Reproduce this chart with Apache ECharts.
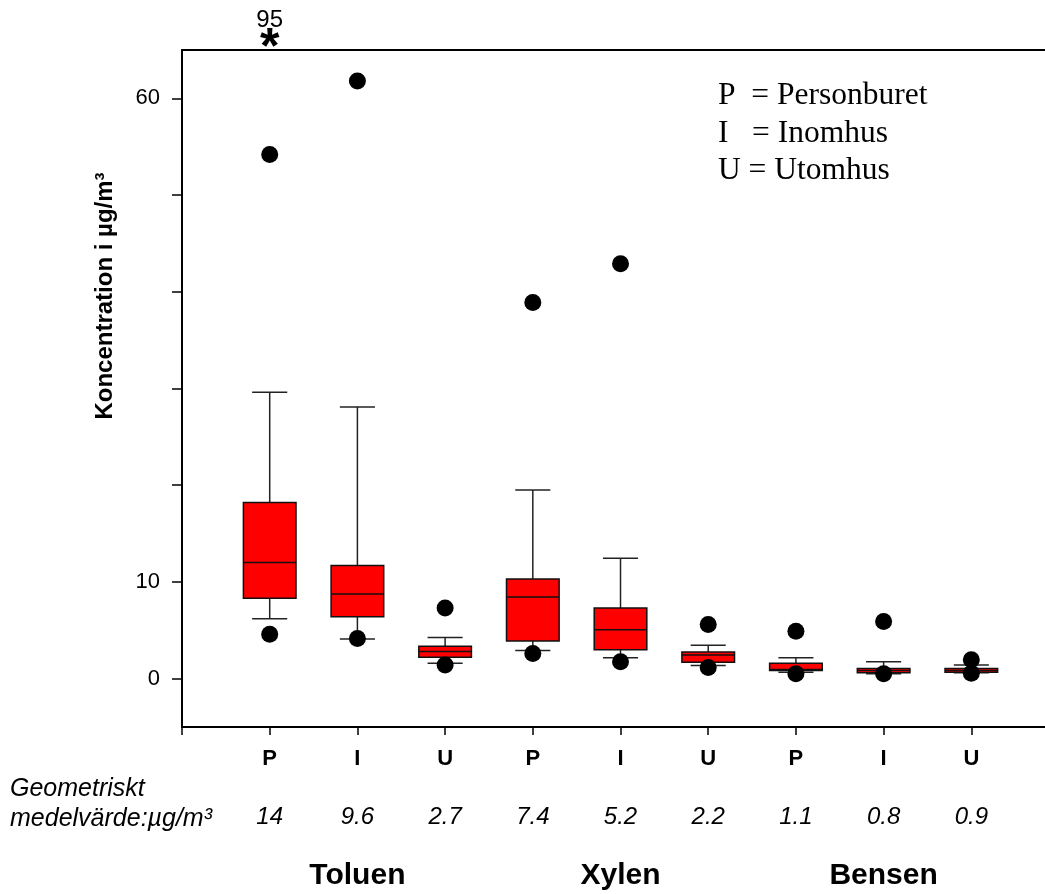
<!DOCTYPE html>
<html>
<head>
<meta charset="utf-8">
<title>Koncentration</title>
<script src="https://cdn.jsdelivr.net/npm/echarts@6/dist/echarts.min.js"></script>
<style>
  html, body { margin: 0; padding: 0; background: #fff; }
  #chart { width: 1045px; height: 894px; }
</style>
</head>
<body>
<div id="chart"></div>
<script>
// kategorier: P = Personburet, I = Inomhus, U = Utomhus
const categories = ['P', 'I', 'U', 'P', 'I', 'U', 'P', 'I', 'U']
const groups = ['Toluen', 'Xylen', 'Bensen']
const geoMean = ['14', '9.6', '2.7', '7.4', '5.2', '2.2', '1.1', '0.8', '0.9']

// lådagrammens värden (µg/m3)
const lowerWhisker = [6.2, 4.1, 1.6, 2.9, 2.15, 1.35, 0.65, 0.5, 0.6]
const q1 = [8.3, 6.4, 2.2, 3.9, 3.0, 1.7, 0.85, 0.62, 0.65]
const median = [12.0, 8.75, 2.8, 8.45, 5.05, 2.45, 0.95, 0.85, 0.85]
const q3 = [18.2, 11.7, 3.35, 10.3, 7.3, 2.75, 1.6, 1.05, 1.05]
const upperWhisker = [29.6, 28.1, 4.25, 19.5, 12.45, 3.45, 2.15, 1.75, 1.4]

// extremvärden (position 1-9, värde)
const outlierPos = [1, 1, 2, 2, 3, 3, 4, 4, 5, 5, 6, 6, 7, 7, 8, 8, 9, 9]
const outlierVal = [54.2, 4.6, 61.8, 4.15, 7.3, 1.4, 38.9, 2.6, 42.9, 1.75, 5.6, 1.15, 4.9, 0.5, 5.9, 0.5, 1.95, 0.55]

// värde utanför skalan
const offScaleValue = 95
const xTicks = [0, 1, 2, 3, 4, 5, 6, 7, 8, 9]
const xLabels = [1, 2, 3, 4, 5, 6, 7, 8, 9]
const yTicks = [0, 10, 20, 30, 40, 50, 60]
const yLabels = [0, 10, 60]

const chartInstance = echarts.init(document.getElementById('chart'))

const boxData = categories.map((c, i) => [i + 1, lowerWhisker[i], q1[i], median[i], q3[i], upperWhisker[i]])
const outlierData = outlierPos.map((p, i) => [p, outlierVal[i]])

function renderBox (params, api) {
    const x = api.value(0)
    const lo = api.coord([x, api.value(1)])
    const b = api.coord([x, api.value(2)])
    const md = api.coord([x, api.value(3)])
    const t = api.coord([x, api.value(4)])
    const hi = api.coord([x, api.value(5)])
    const boxW = api.size([0.6, 0])[0]
    const capW = api.size([0.4, 0])[0]
    const whisker = { stroke: '#222', lineWidth: 1.5 }
    return {
        type: 'group',
        children: [
            { type: 'line', shape: { x1: hi[0], y1: hi[1], x2: t[0], y2: t[1] }, style: whisker },
            { type: 'line', shape: { x1: b[0], y1: b[1], x2: lo[0], y2: lo[1] }, style: whisker },
            { type: 'line', shape: { x1: hi[0] - capW / 2, y1: hi[1], x2: hi[0] + capW / 2, y2: hi[1] }, style: whisker },
            { type: 'line', shape: { x1: lo[0] - capW / 2, y1: lo[1], x2: lo[0] + capW / 2, y2: lo[1] }, style: whisker },
            { type: 'rect', shape: { x: t[0] - boxW / 2, y: t[1], width: boxW, height: b[1] - t[1] },
              style: { fill: '#ff0000', stroke: '#111', lineWidth: 1.5 } },
            { type: 'line', shape: { x1: md[0] - boxW / 2, y1: md[1], x2: md[0] + boxW / 2, y2: md[1] },
              style: { stroke: '#111', lineWidth: 1.5 } }
        ]
    }
}

const option = {
    backgroundColor: '#fff',
    animation: false,
    grid: { left: 182, top: 50, width: 863, height: 677 },
    xAxis: [
        {
            type: 'value',
            min: 0,
            max: 9.84,
            splitLine: { show: false },
            axisLine: { onZero: false, lineStyle: { color: '#000', width: 2 } },
            axisTick: { length: 8, customValues: xTicks, lineStyle: { color: '#000', width: 1.5 } },
            axisLabel: {
                customValues: xLabels,
                margin: 17,
                color: '#000',
                fontFamily: 'Liberation Sans, Arial',
                formatter: (v) => {
                    const i = Math.round(v) - 1
                    let s = '{c|' + categories[i] + '}\n{g|' + geoMean[i] + '}'
                    if (i % 3 === 1) s += '\n{t|' + groups[(i - 1) / 3] + '}'
                    return s
                },
                rich: {
                    c: { fontSize: 22, fontWeight: 'bold', lineHeight: 30, fontFamily: 'Liberation Sans, Arial', color: '#000' },
                    g: { fontSize: 24, fontStyle: 'italic', lineHeight: 86, fontFamily: 'Liberation Sans, Arial', color: '#000' },
                    t: { fontSize: 30, fontWeight: 'bold', lineHeight: 32, fontFamily: 'Liberation Sans, Arial', color: '#000' }
                }
            }
        },
        {
            type: 'value',
            position: 'top',
            min: 0,
            max: 9.84,
            splitLine: { show: false },
            axisLine: { show: true, onZero: false, lineStyle: { color: '#000', width: 2 } },
            axisTick: { show: false },
            axisLabel: { show: false }
        }
    ],
    yAxis: {
        type: 'value',
        min: -5,
        max: 65,
        splitLine: { show: false },
        axisLine: { show: true, onZero: false, lineStyle: { color: '#000', width: 2 } },
        axisTick: { show: true, length: 10, customValues: yTicks, lineStyle: { color: '#000', width: 1.5 } },
        axisLabel: {
            customValues: yLabels,
            margin: 22,
            fontSize: 22,
            color: '#000',
            fontFamily: 'Liberation Sans, Arial'
        }
    },
    series: [
        {
            type: 'custom',
            renderItem: renderBox,
            encode: { x: 0, y: [1, 2, 3, 4, 5] },
            data: boxData,
            z: 2
        },
        {
            type: 'scatter',
            symbol: 'circle',
            symbolSize: 17,
            itemStyle: { color: '#000', opacity: 1 },
            data: outlierData,
            z: 3
        },
        {
            // markering för värdet utanför skalan
            type: 'scatter',
            clip: false,
            symbolSize: 0,
            itemStyle: { color: '#000', opacity: 1 },
            data: [[1, 65, offScaleValue]],
            label: {
                show: true,
                position: 'top',
                distance: -17,
                color: '#000',
                formatter: (p) => '{n|' + p.value[2] + '}\n{s|*}',
                rich: {
                    n: { fontSize: 24, fontFamily: 'Liberation Sans, Arial', color: '#000', lineHeight: 22 },
                    s: { fontSize: 50, fontWeight: 'bold', fontFamily: 'Liberation Sans, Arial', color: '#000', lineHeight: 36 }
                }
            },
            z: 4
        }
    ],
    graphic: [
        {
            type: 'text',
            x: 105,
            y: 296,
            rotation: Math.PI / 2,
            style: {
                text: 'Koncentration i µg/m³',
                fontSize: 24,
                fontWeight: 'bold',
                fontFamily: 'Liberation Sans, Arial',
                fill: '#000',
                align: 'center',
                verticalAlign: 'middle'
            }
        },
        {
            type: 'text',
            x: 10,
            y: 774,
            style: {
                text: 'Geometriskt\nmedelvärde:µg/m³',
                fontSize: 25,
                fontStyle: 'italic',
                fontFamily: 'Liberation Sans, Arial',
                lineHeight: 30,
                fill: '#000',
                verticalAlign: 'top'
            }
        },
        {
            type: 'text',
            x: 718,
            y: 77,
            style: {
                text: 'P  = Personburet\nI   = Inomhus\nU = Utomhus',
                fontSize: 31.5,
                fontFamily: 'Liberation Serif, Times New Roman',
                lineHeight: 37.5,
                fill: '#000',
                verticalAlign: 'top'
            }
        }
    ]
}

chartInstance.setOption(option)
</script>
</body>
</html>
